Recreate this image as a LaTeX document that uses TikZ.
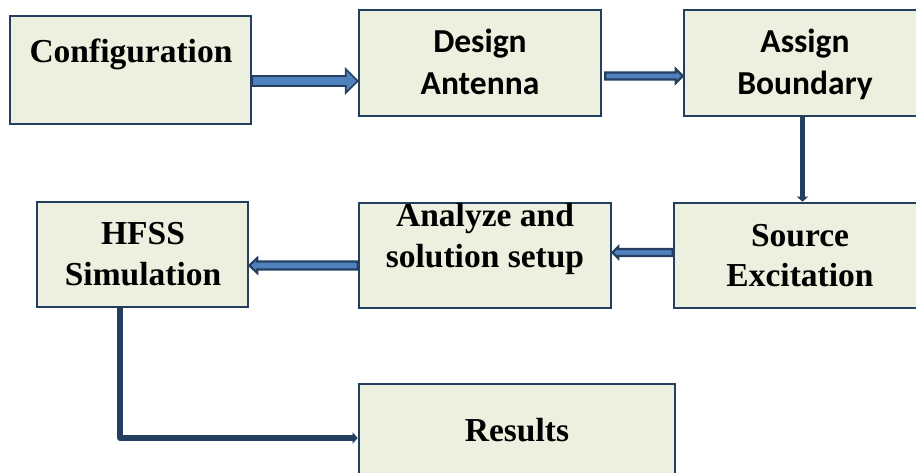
\documentclass[tikz,border=0pt]{standalone}
\usepackage{fontspec}
\setmainfont{Liberation Serif}
\newfontfamily\calib{Carlito}
\usetikzlibrary{calc,arrows.meta}
\definecolor{edge}{HTML}{243F60}
\definecolor{boxfill}{HTML}{EBF1DE}
\definecolor{arrowblue}{HTML}{4F81BD}
\tikzset{
 box/.style={draw=edge, fill=boxfill, line width=2.6pt, rectangle, inner sep=0pt},
 serif/.style={font=\fontsize{33.5}{40}\selectfont\bfseries, inner sep=0pt, anchor=base},
 calibri/.style={font=\calib\fontsize{33.5}{40}\selectfont\bfseries, inner sep=0pt, anchor=base},
 blockarrow/.style={draw=edge, fill=arrowblue, line width=1.6pt, line join=miter},
 thinarrow/.style={draw=edge, fill=arrowblue, line width=2.2pt, line join=miter},
 darkline/.style={draw=edge, line width=5.5pt, line join=round},
}
\begin{document}
\begin{tikzpicture}[x=1pt,y=-1pt]
\useasboundingbox (0,0) rectangle (916,473);
\clip (0,0) rectangle (916,473);
\fill[white] (0,0) rectangle (916,473);
% boxes
\node[box, minimum width=241pt, minimum height=108pt] (cfg) at (130.5,70) {};
\node[box, minimum width=242pt, minimum height=106pt] (des) at (480,63) {};
\node[box, minimum width=242pt, minimum height=106pt] (asg) at (805,63) {};
\node[box, minimum width=252pt, minimum height=105pt] (src) at (800,255.5) {};
\node[box, minimum width=252pt, minimum height=105pt] (ana) at (485,255.5) {};
\node[box, minimum width=211pt, minimum height=105pt] (hfss) at (142.5,254.5) {};
\node[box, minimum width=316pt, minimum height=116pt] (res) at (517,442) {};
% texts
\node[serif] (t1) at (131,63) {Configuration};
\node[calibri] (t2a) at (480,53) {Design};
\node[calibri] (t2b) at (480,95) {Antenna};
\node[calibri] (t3a) at (805,53) {Assign};
\node[calibri] (t3b) at (805,95) {Boundary};
\node[serif] (t4a) at (800,247) {Source};
\node[serif] (t4b) at (800,287) {Excitation};
\node[serif] (t5a) at (485,227) {Analyze and};
\node[serif] (t5b) at (485,268) {solution setup};
\node[serif] (t6a) at (143,244) {HFSS};
\node[serif] (t6b) at (143,286) {Simulation};
\node[serif] (t7) at (517,441) {Results};
% arrow 1: Configuration -> Design
\filldraw[blockarrow] (cfg.east|-0,76) -- ($(des.west|-0,76)+(-12,0)$) -- ($(des.west|-0,69)+(-12,0)$)
  -- (des.west|-0,81) -- ($(des.west|-0,93)+(-12,0)$) -- ($(des.west|-0,86)+(-12,0)$) -- (cfg.east|-0,86) -- cycle;
% arrow 2: Design -> Assign
\filldraw[thinarrow] ($(des.east|-0,72.5)+(3,0)$) -- ($(asg.west|-0,72.5)+(-7,0)$) -- ($(asg.west|-0,69)+(-7,0)$)
  -- (asg.west|-0,76) -- ($(asg.west|-0,83)+(-7,0)$) -- ($(asg.west|-0,79.5)+(-7,0)$) -- ($(des.east|-0,79.5)+(3,0)$) -- cycle;
% arrow 3: Source -> Analyze
\filldraw[thinarrow] (src.west|-0,249) -- ($(ana.east|-0,249)+(6,0)$) -- ($(ana.east|-0,246.5)+(6,0)$)
  -- (ana.east|-0,252.5) -- ($(ana.east|-0,258.5)+(6,0)$) -- ($(ana.east|-0,256)+(6,0)$) -- (src.west|-0,256) -- cycle;
% arrow 4: Analyze -> HFSS
\filldraw[thinarrow] (ana.west|-0,261.5) -- ($(hfss.east|-0,261.5)+(8,0)$) -- ($(hfss.east|-0,258)+(8,0)$)
  -- (hfss.east|-0,265.5) -- ($(hfss.east|-0,273)+(8,0)$) -- ($(hfss.east|-0,269.5)+(8,0)$) -- (ana.west|-0,269.5) -- cycle;
% Assign -> Source
\draw[darkline, -{Triangle[length=5pt,width=11pt]}] (802.5,0|-asg.south) -- (802.5,0|-src.north);
% HFSS -> Results
\draw[darkline, -{Triangle[length=5pt,width=11pt]}] (120,0|-hfss.south) -- (120,438) -- (res.west|-0,438);
\end{tikzpicture}
\end{document}
